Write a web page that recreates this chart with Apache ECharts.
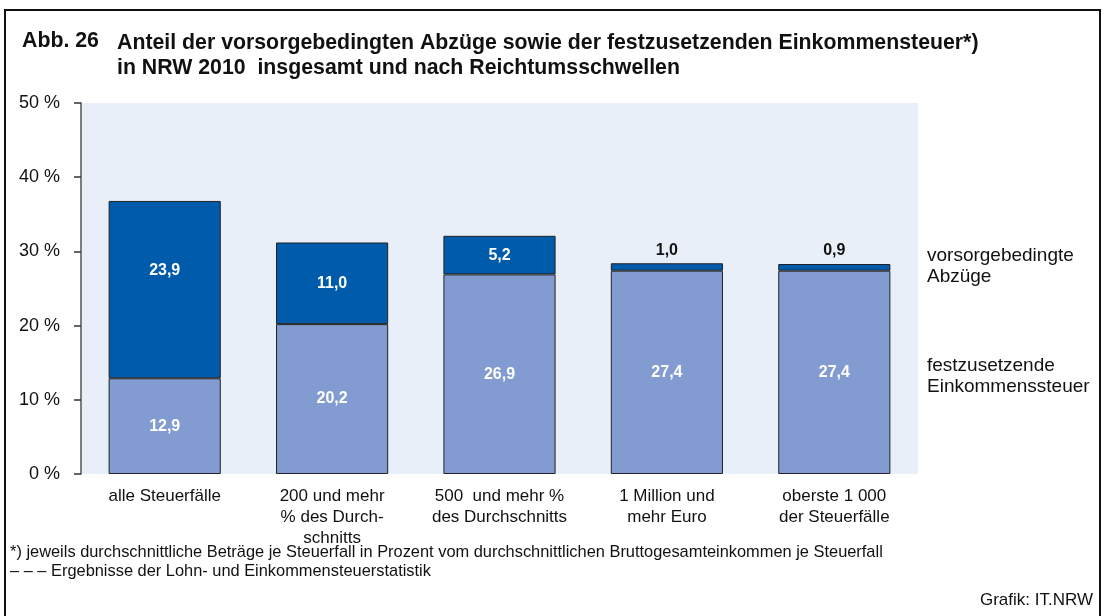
<!DOCTYPE html>
<html>
<head>
<meta charset="utf-8">
<script src="https://cdn.jsdelivr.net/npm/echarts@6/dist/echarts.min.js"></script>
<style>
  html, body { margin: 0; padding: 0; background: #fff; }
  #main { width: 1104px; height: 616px; }
</style>
</head>
<body>
<div id="main"></div>
<script>
var categories = ['alle Steuerfälle', '200 und mehr\n% des Durch-\nschnitts', '500  und mehr %\ndes Durchschnitts', '1 Million und\nmehr Euro', 'oberste 1 000\nder Steuerfälle'];
var einkommensteuer = [12.9, 20.2, 26.9, 27.4, 27.4];
var abzuege = [23.9, 11.0, 5.2, 1.0, 0.9];
var yTicks = [0, 10, 20, 30, 40, 50];

window.onload = function () {
    var myChart = echarts.init(document.getElementById('main'));
    var font = 'Liberation Sans, Arial, sans-serif';

    function fmt(v) {
        return v.toFixed(1).replace('.', ',');
    }

    var option = {
        animation: false,
        backgroundColor: '#fff',
        textStyle: { fontFamily: font },
        grid: { left: 81, right: 186, top: 103, bottom: 142, show: true, backgroundColor: '#e8eff8', borderWidth: 0 },
        xAxis: {
            type: 'category',
            data: categories,
            axisLine: { show: false },
            axisTick: { show: false },
            axisLabel: { color: '#111', fontSize: 17, lineHeight: 21, margin: 12, interval: 0, fontFamily: font }
        },
        yAxis: {
            type: 'value',
            min: yTicks[0],
            max: yTicks[yTicks.length - 1],
            interval: 10,
            splitLine: { show: false },
            axisLine: { show: true, lineStyle: { color: '#555', width: 1.5 } },
            axisTick: { show: true, length: 7, lineStyle: { color: '#333', width: 1.5 } },
            axisLabel: { color: '#111', fontSize: 18, margin: 21, fontFamily: font, formatter: function (v) { return v + ' %'; } }
        },
        series: [{
            name: 'festzusetzende Einkommenssteuer',
            type: 'bar',
            stack: 'a',
            barWidth: '67%',
            data: einkommensteuer,
            itemStyle: { color: '#829bd0', borderColor: '#222', borderWidth: 1 },
            label: { show: true, position: 'inside', color: '#fff', fontWeight: 'bold', fontSize: 16, fontFamily: font, formatter: function (p) { return fmt(p.value); } }
        }, {
            name: 'vorsorgebedingte Abzüge',
            type: 'bar',
            stack: 'a',
            barWidth: '67%',
            data: abzuege.map(function (v, i) {
                var small = v < 2;
                return {
                    value: v,
                    label: small ? { position: 'top', color: '#111', distance: 5 }
                        : { position: 'inside', color: '#fff', offset: i === 0 ? [0, -19] : [0, 0] }
                };
            }),
            itemStyle: { color: '#005bab', borderColor: '#222', borderWidth: 1 },
            label: { show: true, fontWeight: 'bold', fontSize: 16, fontFamily: font, formatter: function (p) { return fmt(p.value); } }
        }],
        graphic: [
            { type: 'rect', shape: { x: 5, y: 10, width: 1095, height: 620 }, style: { fill: 'none', stroke: '#111', lineWidth: 2 }, z: 100 },
            { type: 'text', left: 22, top: 31, style: { text: 'Abb. 26', font: 'bold 21.3px ' + font, fill: '#111' } },
            { type: 'text', left: 117, top: 31, style: { text: 'Anteil der vorsorgebedingten Abzüge sowie der festzusetzenden Einkommensteuer*)\nin NRW 2010  insgesamt und nach Reichtumsschwellen', font: 'bold 21.3px ' + font, fill: '#111', lineHeight: 25 } },
            { type: 'text', left: 927, top: 245, style: { text: 'vorsorgebedingte\nAbzüge', font: '19px ' + font, fill: '#111', lineHeight: 21 } },
            { type: 'text', left: 927, top: 355, style: { text: 'festzusetzende\nEinkommenssteuer', font: '19px ' + font, fill: '#111', lineHeight: 21 } },
            { type: 'text', left: 10, top: 543, style: { text: '*) jeweils durchschnittliche Beträge je Steuerfall in Prozent vom durchschnittlichen Bruttogesamteinkommen je Steuerfall\n– – – Ergebnisse der Lohn- und Einkommensteuerstatistik', font: '16.4px ' + font, fill: '#111', lineHeight: 19 } },
            { type: 'text', right: 11, top: 592, style: { text: 'Grafik: IT.NRW', font: '17px ' + font, fill: '#111' } }
        ]
    };
    myChart.setOption(option);
    window.addEventListener('resize', function () {
        myChart.resize();
    });
};
</script>
</body>
</html>
